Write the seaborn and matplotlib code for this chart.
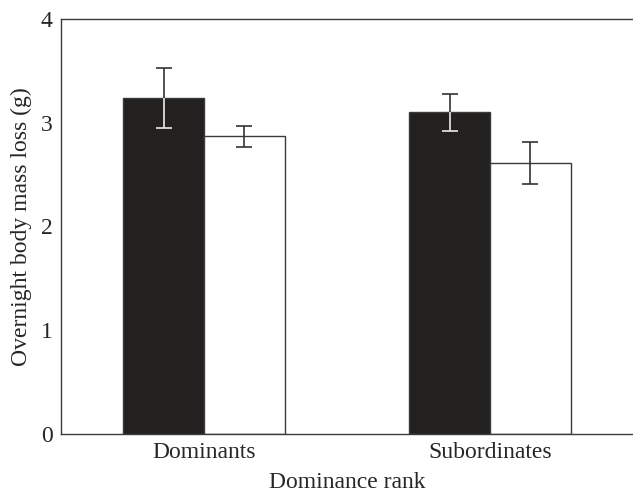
import pandas as pd
import numpy as np
import matplotlib
matplotlib.use('Agg')
import matplotlib.pyplot as plt
import seaborn as sns

# data
ranks = ['Dominants', 'Subordinates']
groups = ['Group A', 'Group B']
mass_loss_a = [3.24, 3.10]
mass_loss_b = [2.87, 2.61]
se_a = [0.29, 0.18]
se_b = [0.10, 0.20]

df = pd.DataFrame({
    'rank': ranks * 2,
    'group': [groups[0]] * 2 + [groups[1]] * 2,
    'loss': mass_loss_a + mass_loss_b,
    'se': se_a + se_b,
})

sns.set_style('white')
plt.rcParams['font.family'] = ['Liberation Serif', 'DejaVu Serif']
plt.rcParams['font.size'] = 17

fig = plt.figure(figsize=(6.33, 4.92), dpi=100)
ax = fig.add_axes([0.0964, 0.1179, 0.9036, 0.8435])

dark = '#231f20'
edge = '#3a3a3a'
sns.barplot(data=df, x='rank', y='loss', hue='group', order=ranks, hue_order=groups,
            palette={groups[0]: dark, groups[1]: 'white'}, width=0.564,
            edgecolor=edge, linewidth=1.0, errorbar=None, legend=False, ax=ax)

# error bars, light where they sit on a dark bar
bar_conts = list(ax.containers)
for i, cont in enumerate(bar_conts):
    g = groups[i]
    for j, bar in enumerate(cont):
        row = df[(df['group'] == g) & (df['rank'] == ranks[j])].iloc[0]
        xc = bar.get_x() + bar.get_width() / 2
        eb = ax.errorbar(xc, row['loss'], yerr=row['se'], color='#333333',
                         capsize=6, elinewidth=1.2, capthick=1.2, fmt='none', zorder=5)
        if i == 0:
            eb2 = ax.errorbar(xc, row['loss'], yerr=row['se'], color='#e8e8e8',
                              capsize=6, elinewidth=1.2, capthick=1.2, fmt='none', zorder=6)
            for art in list(eb2.lines[1]) + list(eb2.lines[2]):
                art.set_clip_path(bar)

ax.set_ylim(0, 4)
ax.set_xlim(-0.5, 1.5)
ax.set_yticks([0, 1, 2, 3, 4])
ax.set_xlabel('Dominance rank', fontsize=17, labelpad=6)
ax.set_ylabel('Overnight body mass loss (g)', fontsize=17, labelpad=6)
ax.tick_params(axis='y', direction='in', length=8, width=1.0, color=edge, labelsize=17, pad=6)
ax.tick_params(axis='x', length=0, labelsize=17, pad=6)

for s in ['left', 'top', 'bottom']:
    ax.spines[s].set_color(edge)
    ax.spines[s].set_linewidth(1.0)
ax.spines['right'].set_visible(False)

fig.savefig('out.png', dpi=100)
